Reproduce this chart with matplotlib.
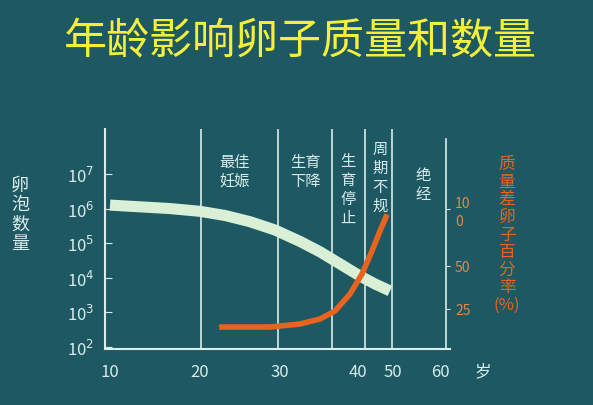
import matplotlib
matplotlib.use("Agg")
import matplotlib.pyplot as plt
import numpy as np

plt.rcParams['font.family'] = ['Noto Sans CJK SC', 'DejaVu Sans']

# data
tick_pos = [110, 200, 280, 358, 393, 440]
tick_labels = ["10", "20", "30", "40", "50", "60"]
follicle_x = [110, 140, 170, 200, 225, 250, 275, 300, 320, 340, 360, 375, 390]
follicle_log = [6.1, 6.05, 6.0, 5.92, 5.8, 5.62, 5.38, 5.05, 4.75, 4.4, 4.05, 3.82, 3.62]
poor_x = [222, 250, 270, 300, 320, 335, 350, 362, 372, 380, 386]
poor_h = [22, 22, 22, 25, 30, 38, 55, 75, 98, 118, 132]
stage_lines = [201, 278, 332, 365, 392]
right_ticks = [40, 83, 140]
right_labels = ["25", "50", "10\n0"]

bg = "#1e5862"
fg = "#d8ecec"
W, H = 593, 406
fig = plt.figure(figsize=(W/100, H/100), dpi=100, facecolor=bg)
ax = fig.add_axes([105/W, 1-350/H, 345/W, 220/H])
ax.set_facecolor(bg)
ax.set_xlim(105, 450)
ax.set_ylim(10**1.94, 10**8.3)
ax.set_yscale('log')
for s in ['top', 'right']:
    ax.spines[s].set_visible(False)
for s in ['left', 'bottom']:
    ax.spines[s].set_color(fg)
    ax.spines[s].set_linewidth(1.5)
ax.set_xticks(tick_pos)
ax.set_xticklabels(tick_labels, color=fg, fontsize=12)
ax.tick_params(axis='x', length=0, pad=10)
ax.set_yticks([10**k for k in range(2, 8)])
ax.set_yticklabels([f"10$^{k}$" for k in range(2, 8)], color=fg, fontsize=12)
ax.yaxis.set_minor_locator(matplotlib.ticker.NullLocator())
ax.tick_params(axis='y', colors=fg, length=5, direction='in', pad=8)

for x in stage_lines:
    ax.axvline(x, color=fg, lw=1.2)

ax.plot(follicle_x, [10**v for v in follicle_log], color="#d9efd6", lw=8, solid_capstyle='butt')

ax2 = ax.twinx()
ax2.set_position(ax.get_position())
ax2.set_ylim(0, 220)
ax2.plot(poor_x, poor_h, color="#e8641e", lw=4)
for s in ['top', 'left', 'bottom']:
    ax2.spines[s].set_visible(False)
ax2.spines['right'].set_position(('data', 446))
ax2.spines['right'].set_bounds(0, 210)
ax2.spines['right'].set_color(fg)
ax2.spines['right'].set_linewidth(1.2)
ax2.set_yticks(right_ticks)
ax2.set_yticklabels(right_labels, fontsize=10, linespacing=1.3)
ax2.tick_params(axis='y', colors=fg, length=3)
for t in ax2.get_yticklabels():
    t.set_color("#e08a4a")

fig.text(300/W, 1-42/H, "年龄影响卵子质量和数量", color="#f4f03a", fontsize=31,
         ha='center', va='center')
fig.text(20/W, 1-215/H, "卵\n泡\n数\n量", color=fg, fontsize=13, ha='center', va='center', linespacing=1.1)
fig.text(507/W, 1-235/H, "质\n量\n差\n卵\n子\n百\n分\n率\n(%)", color="#e8641e", fontsize=12,
         ha='center', va='center', linespacing=1.05)
fig.text(483/W, 1-372/H, "岁", color=fg, fontsize=12, ha='center', va='center')
labels = [(235, 172, "最佳\n妊娠"), (305, 172, "生育\n下降"), (348, 190, "生\n育\n停\n止"),
          (380, 178, "周\n期\n不\n规"), (423, 185, "绝\n经")]
for x, y, t in labels:
    fig.text(x/W, 1-y/H, t, color=fg, fontsize=11, ha='center', va='center', linespacing=1.15)

fig.savefig("out.png", dpi=100, facecolor=bg)
